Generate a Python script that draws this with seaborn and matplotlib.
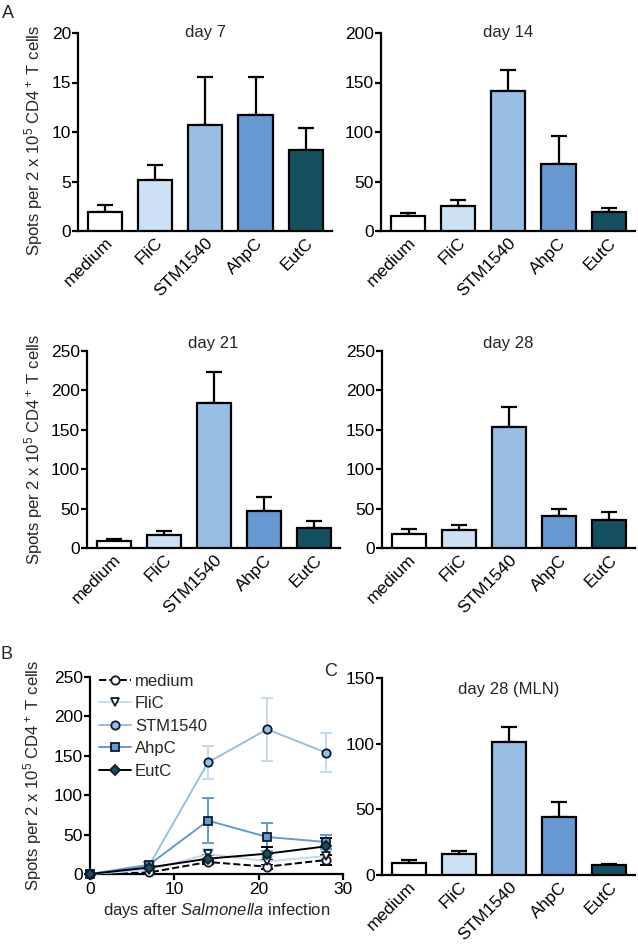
import numpy as np
import pandas as pd
import matplotlib
matplotlib.use("Agg")
import matplotlib.pyplot as plt
import seaborn as sns

# ---- data ----
antigens = ["medium", "FliC", "STM1540", "AhpC", "EutC"]
bar_colors = ["#ffffff", "#cde0f4", "#98bee6", "#6699d1", "#14505f"]

day7_mean = [1.95, 5.15, 10.7, 11.7, 8.2]
day7_sem = [0.7, 1.5, 4.9, 3.9, 2.2]
day14_mean = [15.2, 25.3, 141.7, 67.7, 19.5]
day14_sem = [2.7, 6.3, 20.9, 28.3, 4.0]
day21_mean = [9.3, 16.1, 183.6, 47.0, 25.8]
day21_sem = [2.5, 5.9, 40.2, 17.7, 8.2]
day28_mean = [17.8, 22.8, 154.0, 40.6, 35.1]
day28_sem = [6.2, 6.0, 24.6, 8.9, 10.6]
mln_mean = [9.4, 16.0, 101.0, 44.2, 7.6]
mln_sem = [1.8, 2.5, 11.7, 11.2, 0.8]

days = [0, 7, 14, 21, 28]

ylab = r"Spots per 2 x 10$^5$ CD4$^+$ T cells"
FS = 12
TFS = 12.5

sns.set_theme(style="ticks")
plt.rcParams["font.family"] = ["Liberation Sans", "DejaVu Sans"]
plt.rcParams["mathtext.fontset"] = "custom"
plt.rcParams["mathtext.rm"] = "Liberation Sans"
plt.rcParams["mathtext.it"] = "Liberation Sans:italic"
plt.rcParams["font.size"] = FS
plt.rcParams["axes.linewidth"] = 1.6

fig = plt.figure(figsize=(6.38, 9.44), dpi=100)
W, H = 638.0, 944.0


def add_ax(left, right, top, bottom):
    return fig.add_axes([left / W, 1 - bottom / H, (right - left) / W, (bottom - top) / H])


def style_ax(ax):
    sns.despine(ax=ax)
    ax.tick_params(axis="y", direction="out", length=4, width=1.6, labelsize=TFS, pad=1, colors="black")
    ax.tick_params(axis="x", labelsize=TFS, colors="black")
    for s in ax.spines.values():
        s.set_color("black")


def bar_panel(ax, mean, sem, ymax, step, title, title_y, title_va):
    df = pd.DataFrame({"antigen": antigens, "spots": mean})
    sns.barplot(data=df, x="antigen", y="spots", hue="antigen", palette=bar_colors,
                saturation=1, legend=False, width=0.68, edgecolor="black", linewidth=1.6,
                ax=ax, zorder=3)
    ax.errorbar(np.arange(len(antigens)), mean, yerr=[np.zeros(len(sem)), sem], fmt="none",
                ecolor="black", elinewidth=1.6, capsize=5.5, capthick=1.6, zorder=2)
    ax.set_xlim(-0.53, 4.52)
    ax.set_ylim(0, ymax)
    ax.set_yticks(np.arange(0, ymax + 1, step))
    ax.set_xlabel("")
    ax.set_ylabel("")
    style_ax(ax)
    ax.tick_params(axis="x", length=0, pad=3)
    ax.set_xticks(range(len(antigens)))
    ax.set_xticklabels(antigens, rotation=45, ha="right", rotation_mode="anchor")
    ax.text(0.5, title_y, title, transform=ax.transAxes, ha="center", va=title_va, fontsize=FS)


# ---- A ----
ax7 = add_ax(78, 332, 33, 231)
bar_panel(ax7, day7_mean, day7_sem, 20, 5, "day 7", 1.0, "center")
ax7.set_ylabel(ylab, fontsize=FS)
ax7.yaxis.set_label_coords(-0.13, 0.46)

ax14 = add_ax(381, 635, 33, 231)
bar_panel(ax14, day14_mean, day14_sem, 200, 50, "day 14", 1.0, "center")

ax21 = add_ax(87, 340, 351, 548)
bar_panel(ax21, day21_mean, day21_sem, 250, 50, "day 21", 1.0, "bottom")
ax21.set_ylabel(ylab, fontsize=FS)
ax21.yaxis.set_label_coords(-0.166, 0.5)

ax28 = add_ax(382, 635, 351, 548)
bar_panel(ax28, day28_mean, day28_sem, 250, 50, "day 28", 1.0, "bottom")

# ---- C ----
axc = add_ax(382, 635, 678, 875)
bar_panel(axc, mln_mean, mln_sem, 150, 50, "day 28 (MLN)", 0.94, "center")

# ---- B: kinetics ----
series = {
    "medium": dict(line="black", ls="--", marker="o", mfc="white", ecol="black"),
    "FliC": dict(line="#c6dbef", ls="-", marker="v", mfc="white", ecol="#c6dbef"),
    "STM1540": dict(line="#98bee6", ls="-", marker="o", mfc="#98bee6", ecol="#c6dbef"),
    "AhpC": dict(line="#6699d1", ls="-", marker="s", mfc="#6699d1", ecol="#6699d1"),
    "EutC": dict(line="black", ls="-", marker="D", mfc="#14505f", ecol="black"),
}
all_means = [day7_mean, day14_mean, day21_mean, day28_mean]
all_sems = [day7_sem, day14_sem, day21_sem, day28_sem]

axb = add_ax(90, 343, 677, 874)
rows = []
for i, name in enumerate(antigens):
    for d, m in zip(days, [0.0] + [mm[i] for mm in all_means]):
        rows.append({"antigen": name, "day": d, "spots": m})
kin = pd.DataFrame(rows)

for i, name in enumerate(antigens):
    st = series[name]
    sub = kin[kin["antigen"] == name]
    errs = [0.0] + [ss[i] for ss in all_sems]
    axb.errorbar(sub["day"], sub["spots"], yerr=errs, fmt="none", ecolor=st["ecol"],
                 elinewidth=1.4, capsize=4, capthick=1.4, zorder=2, clip_on=False)
    sns.lineplot(data=sub, x="day", y="spots", ax=axb, color=st["line"], linestyle=st["ls"],
                 linewidth=1.4, marker=st["marker"], markersize=6 if st["marker"] != "D" else 5,
                 markerfacecolor=st["mfc"], markeredgecolor="#0d1b2a", markeredgewidth=1.3,
                 label=name, zorder=3, clip_on=False)

axb.set_xlim(0, 30)
axb.set_ylim(0, 250)
axb.set_xticks([0, 10, 20, 30])
axb.set_yticks(np.arange(0, 251, 50))
style_ax(axb)
axb.tick_params(axis="x", direction="out", length=4, width=1.6, pad=2)
axb.set_xlabel(r"days after $\mathit{Salmonella}$ infection", fontsize=FS, labelpad=3)
axb.set_ylabel(ylab, fontsize=FS)
axb.yaxis.set_label_coords(-0.18, 0.5)
axb.legend(loc="upper left", bbox_to_anchor=(0.01, 1.05), frameon=False, fontsize=FS,
           handlelength=1.9, handletextpad=0.25, labelspacing=0.45, borderaxespad=0)

# panel letters
fig.text(2 / W, 1 - 18 / H, "A", fontsize=13)
fig.text(1 / W, 1 - 659 / H, "B", fontsize=13)
fig.text(324 / W, 1 - 676 / H, "C", fontsize=13)

fig.savefig("out.png", dpi=100, facecolor="white")
